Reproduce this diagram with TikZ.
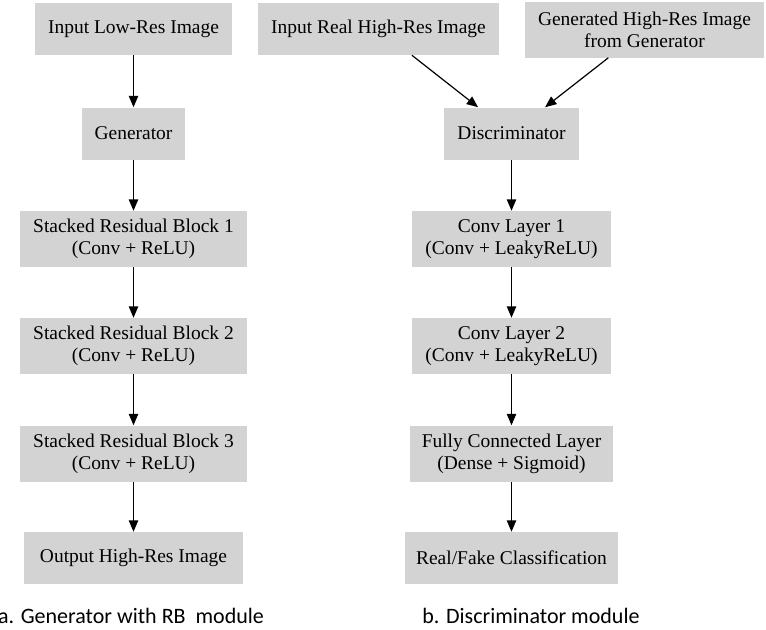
\documentclass[tikz,border=0pt]{standalone}
\usepackage{fontspec}
\setmainfont{Liberation Serif}
\newfontfamily\capfont{Carlito}
\usetikzlibrary{arrows.meta, positioning}
\definecolor{boxgray}{RGB}{211,211,211}

\begin{document}
\begin{tikzpicture}[
  x=0.75pt, y=-0.75pt,
  block/.style={rectangle, fill=boxgray, minimum height=39pt, align=center,
                inner sep=2pt, font=\fontsize{14.6}{16.5}\selectfont},
  block2/.style={block, minimum height=42pt},
  arrow/.style={-{Triangle[length=8.5pt, width=7pt]}, line width=0.9pt},
  caption/.style={font=\capfont\fontsize{16.5}{18}\selectfont}
]
\useasboundingbox (0,0) rectangle (766,629);

% Generator column
\node[block, minimum width=148pt] (lowres) at (133.5,29) {Input Low-Res Image};
\node[block, minimum width=77pt] (gen) at (133.5,133.5) {Generator};
\node[block2, minimum width=170pt] (rb1) at (133.5,239) {Stacked Residual Block 1\\(Conv + ReLU)};
\node[block2, minimum width=170pt] (rb2) at (133.5,346) {Stacked Residual Block 2\\(Conv + ReLU)};
\node[block2, minimum width=170pt] (rb3) at (133.5,453.5) {Stacked Residual Block 3\\(Conv + ReLU)};
\node[block, minimum width=164pt] (hrout) at (133.5,558) {Output High-Res Image};

\draw[arrow] (lowres) -- (gen);
\draw[arrow] (gen) -- (rb1);
\draw[arrow] (rb1) -- (rb2);
\draw[arrow] (rb2) -- (rb3);
\draw[arrow] (rb3) -- (hrout);

% Discriminator column
\node[block, minimum width=181pt] (realhr) at (378.5,29) {Input Real High-Res Image};
\node[block2, minimum width=179pt] (genhr) at (644.5,29.5) {Generated High-Res Image\\from Generator};
\node[block, minimum width=101pt] (disc) at (511.5,133.5) {Discriminator};
\node[block2, minimum width=149pt] (conv1) at (511.5,239) {Conv Layer 1\\(Conv + LeakyReLU)};
\node[block2, minimum width=149pt] (conv2) at (511.5,346) {Conv Layer 2\\(Conv + LeakyReLU)};
\node[block2, minimum width=152pt] (fc) at (511.5,453.5) {Fully Connected Layer\\(Dense + Sigmoid)};
\node[block, minimum width=160pt] (cls) at (511.5,558) {Real/Fake Classification};

\draw[arrow] (realhr) -- (disc);
\draw[arrow] (genhr) -- (disc);
\draw[arrow] (disc) -- (conv1);
\draw[arrow] (conv1) -- (conv2);
\draw[arrow] (conv2) -- (fc);
\draw[arrow] (fc) -- (cls);

% Captions
\node[caption] (capa) at (131,616) {a. Generator with RB\ \ module};
\node[caption] (capb) at (531,616) {b. Discriminator module};

\end{tikzpicture}
\end{document}
